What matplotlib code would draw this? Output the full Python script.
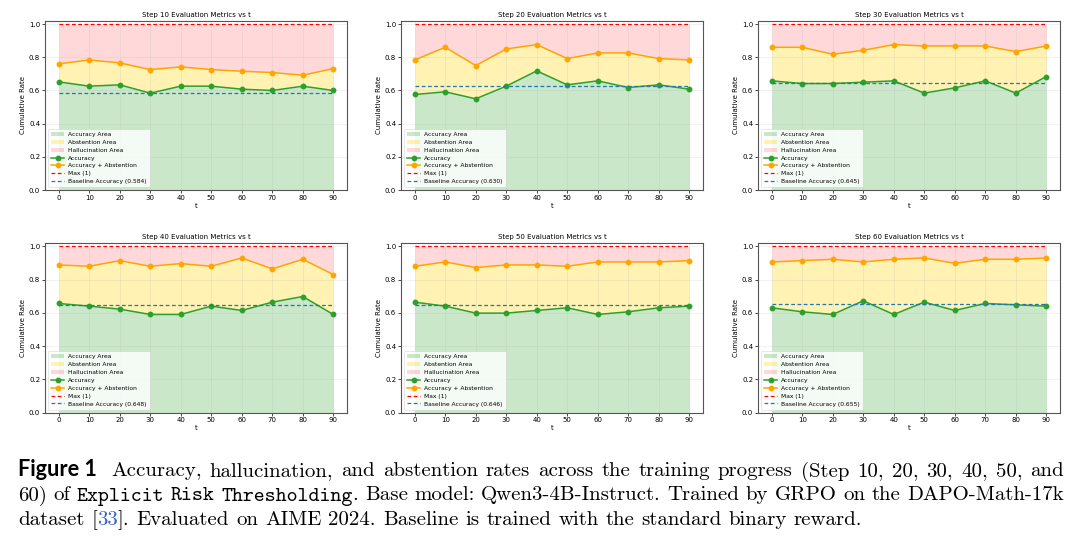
import matplotlib
matplotlib.use('Agg')
import matplotlib.pyplot as plt

# ---- data ----
t = [0, 10, 20, 30, 40, 50, 60, 70, 80, 90]
steps = [10, 20, 30, 40, 50, 60]

acc_step10 = [0.652, 0.626, 0.634, 0.584, 0.626, 0.626, 0.608, 0.600, 0.626, 0.600]
cum_step10 = [0.760, 0.784, 0.766, 0.726, 0.742, 0.726, 0.716, 0.708, 0.692, 0.732]
acc_step20 = [0.576, 0.592, 0.550, 0.626, 0.718, 0.634, 0.658, 0.618, 0.634, 0.608]
cum_step20 = [0.784, 0.860, 0.750, 0.850, 0.876, 0.792, 0.826, 0.826, 0.792, 0.784]
acc_step30 = [0.658, 0.642, 0.642, 0.650, 0.658, 0.584, 0.616, 0.658, 0.584, 0.684]
cum_step30 = [0.860, 0.860, 0.818, 0.842, 0.876, 0.868, 0.868, 0.868, 0.834, 0.868]
acc_step40 = [0.656, 0.640, 0.622, 0.590, 0.590, 0.640, 0.614, 0.664, 0.698, 0.590]
cum_step40 = [0.888, 0.880, 0.914, 0.880, 0.896, 0.880, 0.930, 0.864, 0.922, 0.830]
acc_step50 = [0.664, 0.640, 0.598, 0.598, 0.614, 0.630, 0.590, 0.606, 0.630, 0.640]
cum_step50 = [0.880, 0.906, 0.872, 0.888, 0.888, 0.880, 0.906, 0.906, 0.906, 0.914]
acc_step60 = [0.630, 0.606, 0.590, 0.672, 0.590, 0.664, 0.614, 0.656, 0.648, 0.640]
cum_step60 = [0.906, 0.914, 0.922, 0.906, 0.922, 0.930, 0.898, 0.922, 0.922, 0.930]
baseline = [0.584, 0.630, 0.645, 0.648, 0.646, 0.655]

accs = [acc_step10, acc_step20, acc_step30, acc_step40, acc_step50, acc_step60]
cums = [cum_step10, cum_step20, cum_step30, cum_step40, cum_step50, cum_step60]

W, H = 1080, 542
fig = plt.figure(figsize=(W / 100, H / 100), dpi=100)

FS = 5.0
LEG_FS = 4.3

# axes boxes in pixels: (left, top, width, height)
col_left = [45, 401, 758]
row_top = [20.7, 243]
ax_w, ax_h = 302, 169.5

for i, step in enumerate(steps):
    r, c = divmod(i, 3)
    l, tp = col_left[c], row_top[r]
    ax = fig.add_axes([l / W, 1 - (tp + ax_h) / H, ax_w / W, ax_h / H])
    acc, cum, base = accs[i], cums[i], baseline[i]

    ax.fill_between(t, 0, acc, color='tab:green', alpha=0.25, lw=0, label='Accuracy Area')
    ax.fill_between(t, acc, cum, color='gold', alpha=0.3, lw=0, label='Abstention Area')
    ax.fill_between(t, cum, 1, color='red', alpha=0.15, lw=0, label='Hallucination Area')
    ax.plot(t, acc, marker='o', color='tab:green', lw=1.1, ms=3.2, label='Accuracy')
    ax.plot(t, cum, marker='o', color='orange', lw=1.1, ms=3.2, label='Accuracy + Abstention')
    ax.plot(t, [1.0] * len(t), ls='--', color='red', lw=0.9, dashes=(3, 2), label='Max (1)')
    ax.plot(t, [base] * len(t), ls='--', color='tab:blue', lw=0.9, dashes=(3, 2),
            label=f'Baseline Accuracy ({base:.3f})')

    ax.set_ylim(0, 1.02)
    ax.set_xticks(t)
    ax.set_title(f'Step {step} Evaluation Metrics vs t', fontsize=FS, pad=3)
    ax.set_xlabel('t', fontsize=FS, labelpad=1.5)
    ax.set_ylabel('Cumulative Rate', fontsize=FS, labelpad=2)
    ax.tick_params(labelsize=FS, length=2, width=0.5, pad=1.5)
    ax.grid(True, alpha=0.3, lw=0.4)
    for s in ax.spines.values():
        s.set_linewidth(0.8)
        s.set_color('#555555')
    ax.legend(loc='lower left', fontsize=LEG_FS, framealpha=0.8,
              borderpad=0.5, labelspacing=0.45, handlelength=2.2,
              handletextpad=0.7, borderaxespad=0.5).get_frame().set_linewidth(0.4)

# ---- caption ----
RM = dict(family='cmr10', fontsize=15.0)
TT = dict(family='cmtt10', fontsize=15.0)
BF = dict(family='Lato', fontsize=15.6, fontweight='bold')

renderer = fig.canvas.get_renderer()


def measure(txt, props):
    tt = fig.text(0, 0, txt, **props)
    w = tt.get_window_extent(renderer).width
    tt.remove()
    return w


def draw_line(tokens, y, x0, x1, justify):
    # tokens: (word, props, color, gap_after) ; gap None means stretchable space
    widths = [measure(w, p) for w, p, _, _ in tokens]
    space = measure('a b', RM) - measure('ab', RM)
    fixed = sum(g for _, _, _, g in tokens[:-1] if g is not None and g > 0)
    n_gaps = sum(1 for _, _, _, g in tokens[:-1] if g is None)
    if justify and n_gaps:
        sp = (x1 - x0 - sum(widths) - fixed) / n_gaps
    else:
        sp = space
    x = x0
    for (w, p, col, g), wd in zip(tokens, widths):
        fig.text(x / W, 1 - y / H, w, color=col, ha='left', va='baseline', **p)
        x += wd + (sp if g is None else g)


def words(s, props, color='black', last_gap=None):
    parts = s.split(' ')
    out = [(p, props, color, None) for p in parts]
    out[-1] = (out[-1][0], props, color, last_gap)
    return out


line1 = [('Figure 1', BF, 'black', 14)] + words(
    'Accuracy, hallucination, and abstention rates across the training progress '
    '(Step 10, 20, 30, 40, 50, and', RM)
line2 = (words('60) of', RM) + words('Explicit Risk Thresholding', TT, last_gap=0)
         + words('. Base model: Qwen3-4B-Instruct. Trained by GRPO on the DAPO-Math-17k', RM))
line3 = (words('dataset [', RM, last_gap=0) + [('33', RM, '#3a5fcd', 0)]
         + words(']. Evaluated on AIME 2024. Baseline is trained with the standard binary reward.', RM))

draw_line(line1, 476.5, 18, 1064, True)
draw_line(line2, 500.5, 18, 1064, True)
draw_line(line3, 525, 18, 1064, False)

fig.savefig('out.png', dpi=100)
